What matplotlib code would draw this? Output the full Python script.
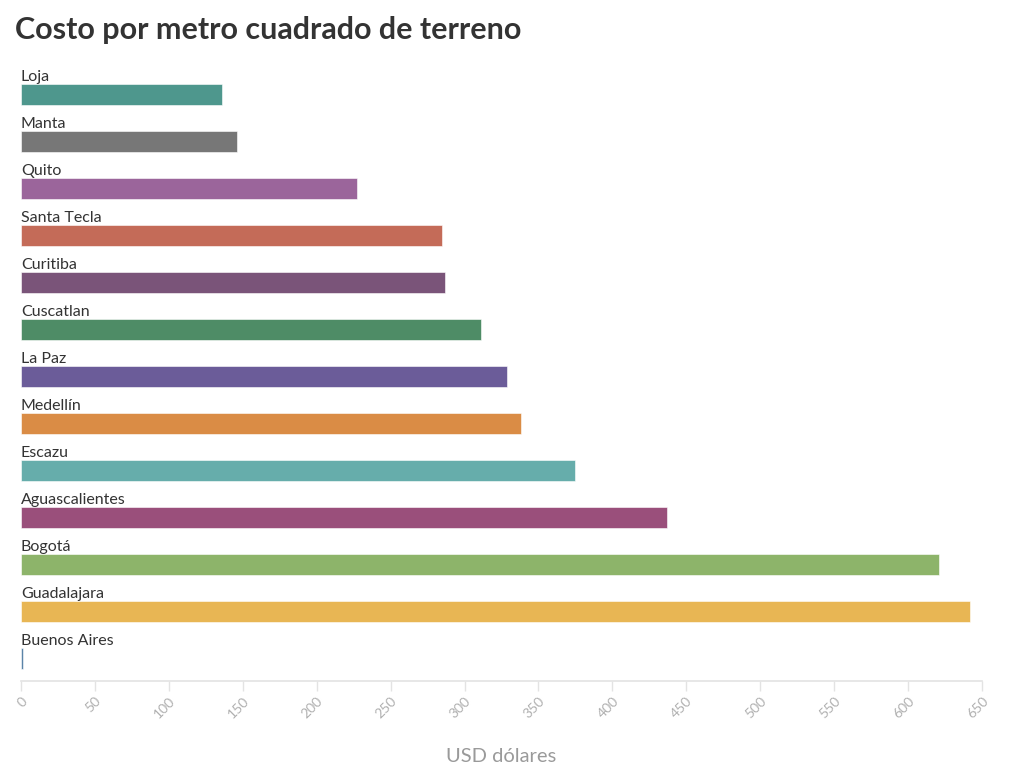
import matplotlib.pyplot as plt
import numpy as np

plt.rcParams["font.family"] = ["Lato", "DejaVu Sans"]

cities = ["Loja", "Manta", "Quito", "Santa Tecla", "Curitiba", "Cuscatlan", "La Paz",
          "Medellín", "Escazu", "Aguascalientes", "Bogotá", "Guadalajara", "Buenos Aires"]
values = [136, 146, 227, 285, 287, 311, 329, 338, 375, 437, 621, 642, 1.5]
colors = ["#4e978d", "#777777", "#9b659b", "#c46b58", "#7a5479", "#4e8c66", "#6b5c99",
          "#da8c45", "#66adab", "#9a4f7b", "#8db46a", "#e8b654", "#5b84a8"]
ticks = list(range(0, 651, 50))

fig = plt.figure(figsize=(10.24, 7.76), dpi=100)
ax = fig.add_axes([21 / 1024, (776 - 681) / 776, 961 / 1024, 621 / 776])

y = np.arange(len(cities))
ax.barh(y, values, height=0.45, color=colors, edgecolor="white", linewidth=0.4)
for i, name in enumerate(cities):
    ax.text(0, i - 0.38, name, ha="left", va="center", fontsize=11.5, color="#333333")

ax.set_xlim(0, 650)
ax.set_ylim(12.479, -0.734)
ax.set_yticks([])
ax.set_xticks(ticks)
ax.set_xticklabels([str(t) for t in ticks], rotation=45, ha="right", rotation_mode="anchor",
                   fontsize=10, color="#b0b0b0")
ax.tick_params(axis="x", length=7, width=1, color="#e3e3e3", pad=3)
for s in ["top", "right", "left"]:
    ax.spines[s].set_visible(False)
ax.spines["bottom"].set_color("#e3e3e3")
ax.spines["bottom"].set_linewidth(1.2)
ax.set_xlabel("USD dólares", fontsize=14.5, color="#9a9a9a", labelpad=20)

fig.text(15 / 1024, 1 - 30 / 776, "Costo por metro cuadrado de terreno", fontsize=22,
         fontweight="bold", color="#333333", va="center", ha="left")

fig.savefig("out.png", dpi=100)
